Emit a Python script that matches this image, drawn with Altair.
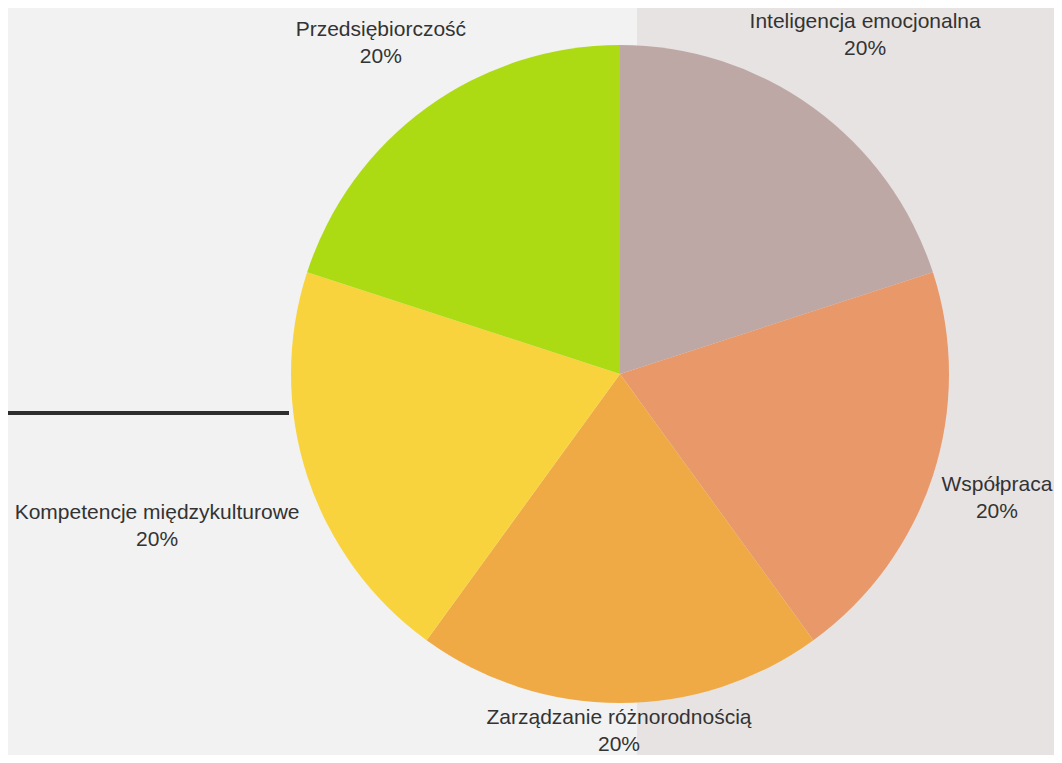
import altair as alt
import pandas as pd
import math

categories = [
    "Inteligencja emocjonalna",
    "Współpraca",
    "Zarządzanie różnorodnością",
    "Kompetencje międzykulturowe",
    "Przedsiębiorczość",
]
values = [20, 20, 20, 20, 20]
colors = ["#bda8a6", "#e99869", "#f0aa45", "#f9d33e", "#addb13"]

df = pd.DataFrame({
    "category": categories,
    "value": values,
    "order": list(range(len(categories))),
})
df["label"] = [[c, f"{v}%"] for c, v in zip(categories, values)]

W, H = 1046, 747
CX, CY, R = 612, 366, 329

bg_right = alt.Chart(pd.DataFrame({"a": [0]})).mark_rect(color="#e7e3e2").encode(
    x=alt.value(629), x2=alt.value(W), y=alt.value(0), y2=alt.value(H)
)
line = alt.Chart(pd.DataFrame({"a": [0]})).mark_rule(color="#2e2e2e", strokeWidth=4).encode(
    x=alt.value(0), x2=alt.value(281), y=alt.value(405)
)

pie = alt.Chart(df).mark_arc(outerRadius=R, stroke=None).encode(
    theta=alt.Theta("value:Q", stack=True),
    order=alt.Order("order:Q"),
    x=alt.value(CX),
    y=alt.value(CY),
    color=alt.Color("category:N", scale=alt.Scale(domain=categories, range=colors), legend=None),
)

label_base = alt.Chart(df).transform_joinaggregate(
    total="sum(value)"
).transform_window(
    cum="sum(value)", sort=[alt.SortField("order")], frame=[None, 0]
).transform_calculate(
    mid="(datum.cum - datum.value / 2) / datum.total"
)

offsets = {
    "Inteligencja emocjonalna": (40, -70),
    "Współpraca": (45, 3),
    "Zarządzanie różnorodnością": (-1, -5),
    "Kompetencje międzykulturowe": (-131, 31),
    "Przedsiębiorczość": (-34, -62),
}

labels = []
for cat in categories:
    dx, dy = offsets[cat]
    labels.append(
        label_base.transform_filter(alt.datum.category == cat).mark_text(
            radius=R + 20, dx=dx, dy=dy, align="center", baseline="middle",
            font="Liberation Sans", fontSize=21, lineHeight=27, color="#333333"
        ).encode(
            theta=alt.Theta("mid:Q", stack=None,
                            scale=alt.Scale(domain=[0, 1], range=[0, 2 * math.pi])),
            x=alt.value(CX),
            y=alt.value(CY),
            text="label",
        )
    )

chart = alt.layer(bg_right, line, pie, *labels).resolve_scale(theta="independent").properties(
    width=W, height=H, padding=0, autosize=alt.AutoSizeParams(type="none"),
    background="#f1f2f1",
).configure_view(stroke=None)

chart.save("out.html", embed_options={"renderer": "svg", "actions": False})
